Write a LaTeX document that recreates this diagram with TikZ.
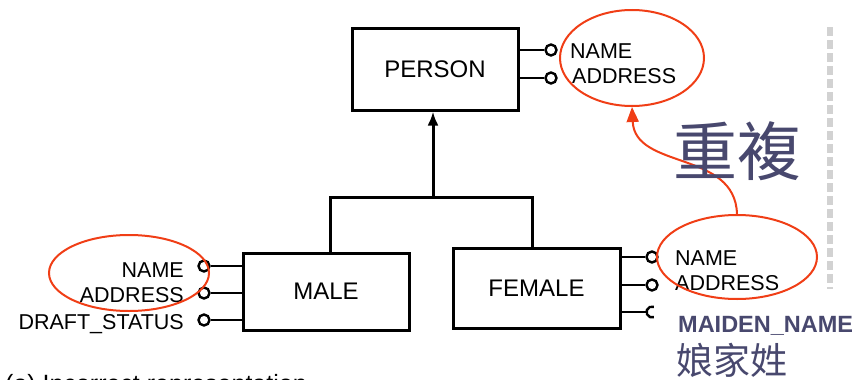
\documentclass[tikz,border=0pt]{standalone}
\usepackage{fontspec}
\setmainfont{Liberation Sans}
\newfontfamily\cjk{Noto Sans CJK TC}
\usetikzlibrary{arrows.meta,shapes.geometric}
\definecolor{redpen}{RGB}{240,62,22}
\definecolor{note}{RGB}{72,72,110}
\definecolor{rail}{RGB}{210,210,210}
\tikzset{
  entity/.style={draw, line width=3pt, minimum width=166pt, inner sep=0pt,
                 font=\fontsize{24}{24}\selectfont},
  ring/.style={draw, circle, line width=2.4pt, minimum size=11pt, inner sep=0pt},
  hole/.style={circle, minimum size=11pt, inner sep=0pt},
  attr/.style={inner sep=0pt, font=\fontsize{21.5}{21.5}\selectfont},
  stub/.style={line width=2.6pt},
  link/.style={line width=3pt},
  hilite/.style={draw=redpen, line width=2pt, ellipse, inner sep=0pt},
}
\begin{document}
\begin{tikzpicture}[x=1pt, y=-1pt]
\useasboundingbox (0,0) rectangle (857,380);
\clip (0,0) rectangle (857,380);

% side rail
\draw[rail, line width=6pt, dash pattern=on 9pt off 4pt] (830,27) -- (830,289);

% entities
\node[entity, minimum height=82pt] (person) at (435,69) {PERSON};
\node[entity, minimum height=77pt] (male)   at (326,291.5) {MALE};
\node[entity, minimum width=167pt, minimum height=80pt] (female) at (536.5,288) {FEMALE};

% generalisation link
\coordinate (jl)  at (330,197);
\coordinate (jr)  at (532,197);
\coordinate (hub) at (433,197);
\draw[link] (male.north -| jl) -- (jl) -- (jr) -- (female.north -| jr);
\draw[link, -{Latex[length=14pt,width=11pt]}] (hub) -- (person.south -| hub);

% PERSON attributes
\node[ring] (pc1) at (551,50) {};
\node[ring] (pc2) at (551,78) {};
\draw[stub] (person.east |- pc1) -- (pc1);
\draw[stub] (person.east |- pc2) -- (pc2);
\node[attr, anchor=base west] (pa1) at (570,58) {NAME};
\node[attr, anchor=base west] (pa2) at (572,83) {ADDRESS};

% MALE attributes
\node[ring] (mc1) at (204,266) {};
\node[ring] (mc2) at (204,293) {};
\node[ring] (mc3) at (204,320) {};
\draw[stub] (male.west |- mc1) -- (mc1);
\draw[stub] (male.west |- mc2) -- (mc2);
\draw[stub] (male.west |- mc3) -- (mc3);
\node[attr, anchor=base east] (ma1) at (184,277) {NAME};
\node[attr, anchor=base east] (ma2) at (184,302) {ADDRESS};
\node[attr, anchor=base east] (ma3) at (184,329) {DRAFT\_STATUS};

% FEMALE attributes
\node[ring] (fc1) at (652,257) {};
\node[ring] (fc2) at (652,285) {};
\node[hole] (fc3) at (652,312) {};
\draw[stub] (female.east |- fc1) -- (fc1);
\draw[stub] (female.east |- fc2) -- (fc2);
\draw[stub] (female.east |- fc3) -- (fc3.west);
\draw[line width=2.4pt] (fc3.center) ++(70:5.5pt) arc[start angle=70, end angle=290, radius=5.5pt];
\node[attr, anchor=base west] (fa1) at (675,265) {NAME};
\node[attr, anchor=base west] (fa2) at (675,290) {ADDRESS};

% caption (cut by the lower edge)
\node[anchor=base west, inner sep=0pt, font=\fontsize{25}{25}\selectfont] (cap) at (5,392)
  {(a) Incorrect representation};

% highlighted duplicates
\node[hilite, minimum width=144pt, minimum height=96pt] (e1) at (632,58) {};
\node[hilite, minimum width=160pt, minimum height=76pt] (e2) at (129,273) {};
\node[hilite, minimum width=160pt, minimum height=84pt] (e3) at (737,257) {};
\draw[redpen, line width=2pt, -{Triangle[length=15pt,width=12pt]}]
  (e3.north) .. controls (735,150) and (635,170) .. (e1.south);

% notes
\node[inner sep=0pt, text=note, font=\cjk\fontsize{64}{64}\selectfont] (dup) at (737,151) {重複};
\node[anchor=base west, inner sep=0pt, text=note, font=\bfseries\fontsize{23.5}{23.5}\selectfont]
  (mn) at (678,332) {MAIDEN\_NAME};
\node[inner sep=0pt, text=note, font=\cjk\fontsize{37}{37}\selectfont] (mnz) at (732,360) {娘家姓};
\end{tikzpicture}
\end{document}
